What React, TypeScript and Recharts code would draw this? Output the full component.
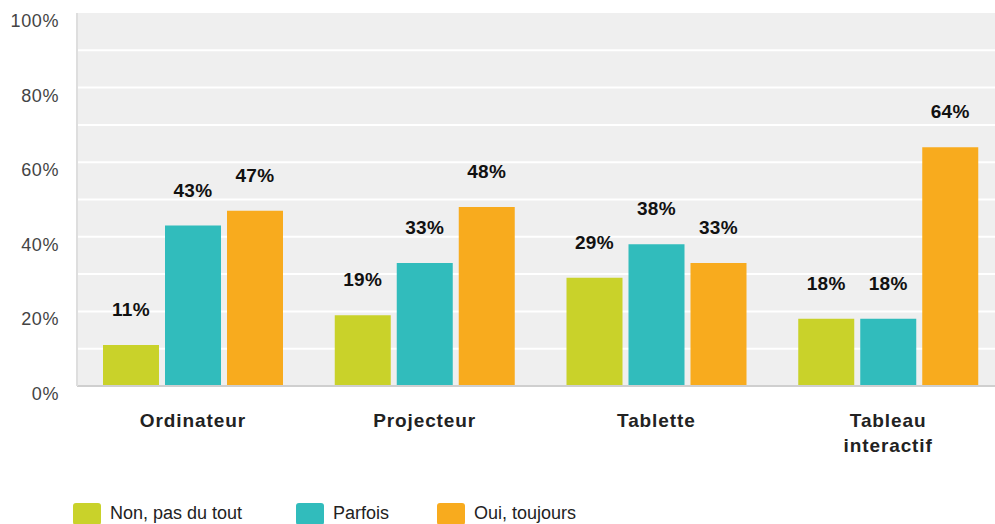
import { BarChart, Bar, XAxis, YAxis, CartesianGrid, LabelList } from 'recharts';

const categories = ['Ordinateur', 'Projecteur', 'Tablette', 'Tableau interactif'];
const nonValues = [11, 19, 29, 18];
const parfoisValues = [43, 33, 38, 18];
const ouiValues = [47, 48, 33, 64];
const yTicks = [0, 20, 40, 60, 80, 100];
const gridValues = [10, 20, 30, 40, 50, 60, 70, 80, 90];

const SERIES = [
  { key: 'non', name: 'Non, pas du tout', color: '#c9d22a' },
  { key: 'parfois', name: 'Parfois', color: '#31bcbc' },
  { key: 'oui', name: 'Oui, toujours', color: '#f8ab1e' }
];

const data = categories.map((c, i) => ({
  category: c,
  non: nonValues[i],
  parfois: parfoisValues[i],
  oui: ouiValues[i]
}));

const FONT = '"Liberation Sans", Arial, sans-serif';

function YTick(props: any) {
  const { x, y, payload } = props;
  return (
    <text x={x + 3} y={y + 14} textAnchor="end" fontFamily={FONT} fontSize={18} fill="#444" letterSpacing={0.6}>
      {payload.value}%
    </text>
  );
}

function XTick(props: any) {
  const { x, y, payload } = props;
  const label: string = payload.value;
  const lines = label.length > 12 ? label.split(' ') : [label];
  return (
    <text x={x} y={y} textAnchor="start" fontFamily={FONT} fontSize={19} fontWeight="bold" fill="#222" letterSpacing={0.9}>
      {lines.map((l, i) => (
        <tspan key={i} x={x} y={y + 33 + i * 25} textAnchor="middle">{l}</tspan>
      ))}
    </text>
  );
}

function ValueLabel(props: any) {
  const { x, y, width, value } = props;
  return (
    <text x={x + width / 2} y={y - 29} textAnchor="middle" fontFamily={FONT} fontSize={19} fontWeight="bold" fill="#111" letterSpacing={0.4}>
      {value}%
    </text>
  );
}

export default function App() {
  return (
    <div style={{ position: 'absolute', left: 0, top: 0, width: 995, height: 524, overflow: 'hidden', background: '#fff' }}>
      <BarChart
        width={1004}
        height={524}
        data={data}
        margin={{ top: 13, right: 0, bottom: 78, left: 0 }}
        barSize={56}
        barGap={6}
      >
        <CartesianGrid
          horizontal
          vertical={false}
          fill="#efefef"
          stroke="#ffffff"
          strokeWidth={2}
          horizontalValues={gridValues}
        />
        <XAxis
          dataKey="category"
          height={60}
          axisLine={{ stroke: '#cfcfcf', strokeWidth: 2 }}
          tickLine={false}
          tick={<XTick />}
          interval={0}
        />
        <YAxis
          width={77}
          domain={[0, 100]}
          ticks={yTicks}
          axisLine={{ stroke: '#dedede', strokeWidth: 2 }}
          tickLine={false}
          tick={<YTick />}
          tickMargin={15}
        />
        {SERIES.map(s => (
          <Bar key={s.key} dataKey={s.key} name={s.name} fill={s.color} isAnimationActive={false}>
            <LabelList dataKey={s.key} content={<ValueLabel />} />
          </Bar>
        ))}
      </BarChart>
      <div style={{ position: 'absolute', top: 503, left: 0, width: 995, fontFamily: FONT, fontSize: 18, color: '#222' }}>
        {SERIES.map((s, i) => (
          <div key={s.key} style={{ position: 'absolute', left: [73, 296, 437][i], top: 0, display: 'flex', alignItems: 'flex-start' }}>
            <div style={{ width: 28, height: 22, background: s.color, borderRadius: 3 }} />
            <span style={{ marginLeft: 9, lineHeight: '20px', whiteSpace: 'nowrap' }}>{s.name}</span>
          </div>
        ))}
      </div>
    </div>
  );
}
